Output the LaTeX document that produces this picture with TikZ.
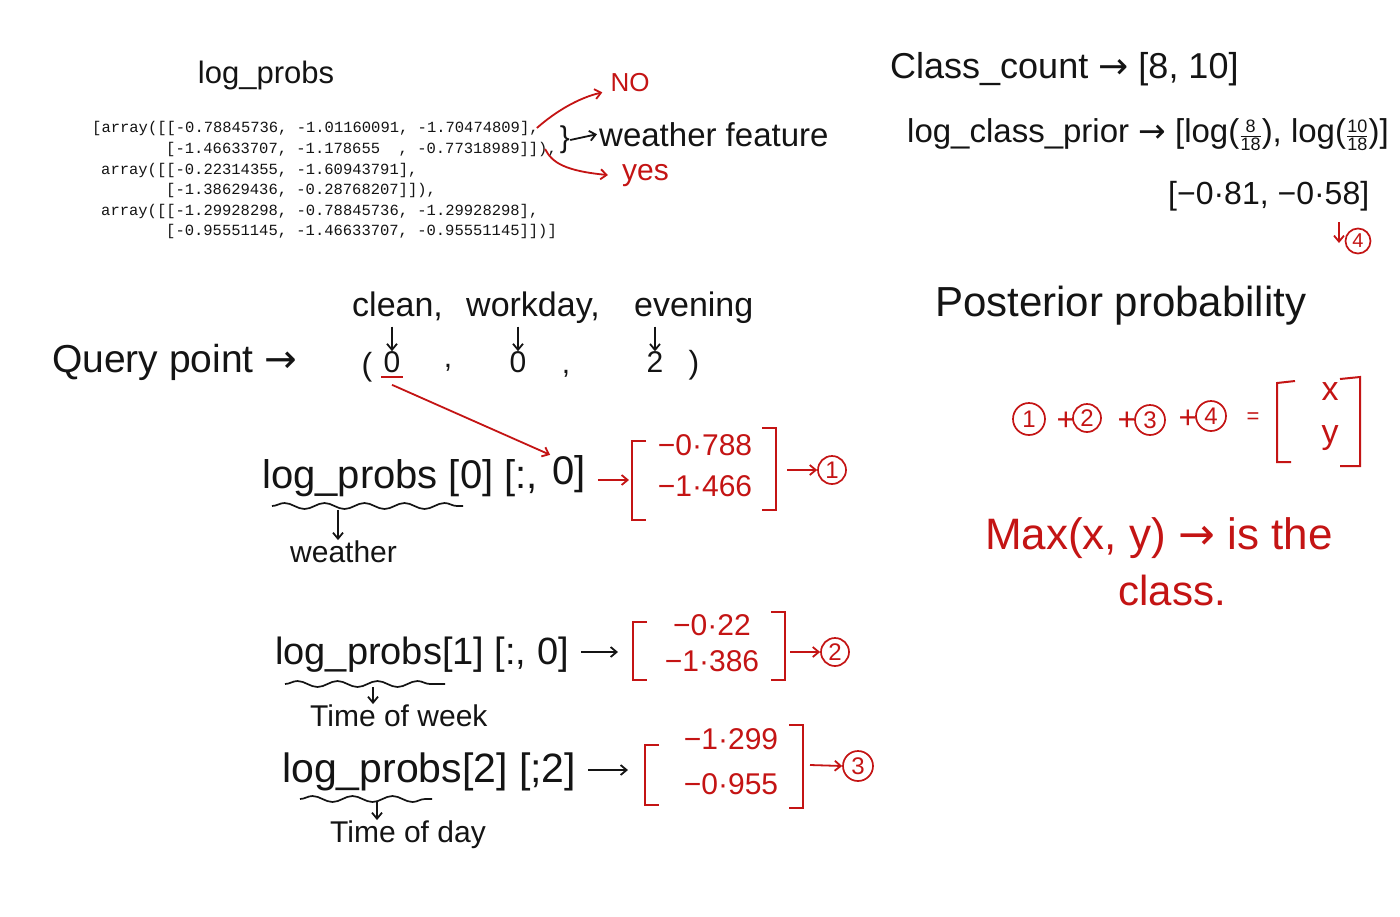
\documentclass[tikz,border=0pt]{standalone}
\usepackage{fontspec}
\setmainfont{Liberation Sans}
\setmonofont{Liberation Mono}
\newfontfamily\symf{DejaVu Sans}
\usetikzlibrary{arrows.meta,decorations.pathmorphing,calc}
\definecolor{hred}{RGB}{196,20,20}
\definecolor{ink}{RGB}{20,20,20}
\newcommand\ar{{\symf →}}
\newcommand\fs[1]{\fontsize{#1}{#1}\selectfont}
\newcommand\fr[2]{$\frac{\mbox{\fs{18}#1}}{\mbox{\fs{18}#2}}$}
\begin{document}
\begin{tikzpicture}[x=1pt,y=-1pt,
  hw/.style={inner sep=0pt, text=ink},
  rd/.style={inner sep=0pt, text=hred},
  code/.style={anchor=west, inner sep=0pt, font=\ttfamily\fs{15.5}, text=ink},
  arr/.style={-{Straight Barb[length=6pt,width=10pt]}, line width=1.8pt},
  circ/.style={circle, draw=hred, text=hred, line width=1.7pt, inner sep=0pt, minimum size=28pt, font=\fs{24}},
  brk/.style={draw=hred, line width=2pt},
  wave/.style={decorate, decoration={snake, amplitude=3pt, segment length=40pt}, line width=1.7pt, draw=ink}
]
\useasboundingbox (0,0) rectangle (1400,916);
\fill[white] (0,0) rectangle (1400,916);

% ---------- log_probs printout ----------
\node[hw, font=\fs{31}] (lph) at (266,75) {log\_probs};
\node[code] (l1) at (92,128) {[array([[-0.78845736, -1.01160091, -1.70474809],};
\node[code] (l2) at (166,149) {[-1.46633707, -1.178655~~, -0.77318989]]),};
\node[code] (l3) at (101,170) {array([[-0.22314355, -1.60943791],};
\node[code] (l4) at (166,190) {[-1.38629436, -0.28768207]]),};
\node[code] (l5) at (101,211) {array([[-1.29928298, -0.78845736, -1.29928298],};
\node[code] (l6) at (166,231) {[-0.95551145, -1.46633707, -0.95551145]])]};

\node[rd, font=\fs{26}] (no) at (630,83) {NO};
\node[rd, font=\fs{30}, anchor=base west] (yes) at (622,180) {yes};
\coordinate (s1) at ([xshift=-2pt]l1.east);
\coordinate (s2) at ([xshift=-12pt]l2.east);
\draw[arr, hred] (s1) .. controls (555,112) and (578,98) .. ([xshift=-8pt]no.south west);
\draw[arr, hred] (s2) .. controls (552,163) and (566,171) .. ([xshift=-14pt]yes.west);

\node[hw, font=\fs{30}] (br) at (565,140) {\}};
\node[hw, font=\fs{33}, anchor=base west] (wf) at (599,146) {weather feature};
\draw[arr, ink] (br.east) -- ([xshift=-2pt]wf.west);

% ---------- class prior ----------
\node[hw, font=\fs{36}, anchor=base west] (cc) at (890,78) {Class\_count \ar{} [8, 10]};
\node[hw, font=\fs{33}, anchor=base west] (lcp) at (907,142) {log\_class\_prior \ar{} [log(\fr{8}{18}), log(\fr{10}{18})]};
\node[hw, font=\fs{32}, anchor=base west] (lcv) at (1168,204) {[−0·81, −0·58]};
\node[circ, minimum size=25pt, font=\fs{20}] (c4p) at (1358,241) {4};
\coordinate (d4a) at (1339,222);
\coordinate (d4b) at (1339,243);
\draw[arr, hred] (d4a) -- (d4b);

% ---------- posterior ----------
\node[hw, font=\fs{42}, anchor=base west] (post) at (935,316) {Posterior probability};
\node[circ, minimum size=32pt] (k1) at (1029,419) {1};
\node[rd, font=\fs{32}] (pl1) at (1066,421) {+};
\node[circ] (k2) at (1087,418) {2};
\node[rd, font=\fs{32}] (pl2) at (1127,421) {+};
\node[circ, minimum size=30pt] (k3) at (1150,420) {3};
\node[rd, font=\fs{32}] (pl3) at (1188,419) {+};
\node[circ, minimum size=30pt] (k4) at (1211,416) {4};
\node[rd, font=\fs{22}] (eq) at (1253,418) {=};
\node[rd, font=\fs{34}] (vx) at (1330,392) {x};
\node[rd, font=\fs{34}] (vy) at (1330,438) {y};
\draw[brk] (1295,381) -- (1277,383) -- (1277,462) -- (1291,462);
\draw[brk] (1340,379) -- (1360,377) -- (1360,466) -- (1340,466);

\node[rd, font=\fs{44}, anchor=base west] (mx) at (985,549) {Max(x, y) \ar{} is the};
\node[rd, font=\fs{42}, anchor=base] (cl) at (1172,605) {class.};

% ---------- query point ----------
\node[hw, font=\fs{39}, anchor=base west] (qp) at (52,372) {Query point \ar};
\node[hw, font=\fs{34}, anchor=base west] (wc) at (352,316) {clean,};
\node[hw, font=\fs{34}, anchor=base west] (ww) at (466,316) {workday,};
\node[hw, font=\fs{34}, anchor=base west] (we) at (634,316) {evening};
\node[hw, font=\fs{32}] (p0) at (367,367) {(};
\node[hw, font=\fs{30}] (d0) at (392,362) {0};
\node[hw, font=\fs{30}] (cm1) at (448,368) {,};
\node[hw, font=\fs{30}] (d1) at (518,362) {0};
\node[hw, font=\fs{30}] (cm2) at (566,374) {,};
\node[hw, font=\fs{30}] (d2) at (655,362) {2};
\node[hw, font=\fs{32}] (p1) at (694,365) {)};
\draw[arr, ink] (d0 |- wc.south) ++(0,6) -- (d0.north);
\draw[arr, ink] (d1 |- wc.south) ++(0,6) -- (d1.north);
\draw[arr, ink] (d2 |- wc.south) ++(0,6) -- (d2.north);
\draw[hred, line width=2pt] ($(d0.south west)+(-2,4)$) -- ($(d0.south east)+(2,4)$);
\coordinate (u0) at ($(d0.south)+(0,12)$);

% ---------- row 1 ----------
\node[hw, font=\fs{40}, anchor=base west] (r1) at (262,488) {log\_probs [0] [:,};
\node[hw, font=\fs{40}, anchor=base west] (z1) at ($(r1.base east)+(14,-4)$) {0]};
\draw[arr, hred] (u0) -- ([xshift=-2pt]z1.north west);
\draw[wave] (272,506) -- (463,506);
\coordinate (w1) at (338,510);
\node[hw, font=\fs{30}, anchor=base west] (wt) at (290,562) {weather};
\draw[arr, ink] (w1) -- (w1 |- wt.north);
\node[rd, font=\fontsize{30}{41}\selectfont, align=center] (m1) at (705,466) {−0·788\\−1·466};
\draw[brk] (646,441) -- (632,441) -- (632,520) -- (646,520);
\draw[brk] (762,428) -- (776,428) -- (776,510) -- (762,510);
\coordinate (lb1) at (629,480);
\draw[arr, hred] ($(z1.base east)+(12,-4)$) -- (lb1);
\node[circ] (c1) at (832,470) {1};
\draw[arr, hred] (787,470) -- (c1.west);

% ---------- row 2 ----------
\node[hw, font=\fs{38}, anchor=base west] (r2) at (275,664) {log\_probs[1] [:, 0]};
\draw[wave] (285,684) -- (445,684);
\coordinate (w2) at (373,687);
\node[hw, font=\fs{30}, anchor=base west] (tw) at (310,726) {Time of week};
\draw[arr, ink] (w2) -- (w2 |- tw.north);
\node[rd, font=\fontsize{30}{36}\selectfont, align=center] (m2) at (712,643) {−0·22\\−1·386};
\draw[brk] (647,622) -- (633,622) -- (633,680) -- (647,680);
\draw[brk] (771,612) -- (785,612) -- (785,680) -- (771,680);
\coordinate (lb2) at (618,652);
\draw[arr, ink] ($(r2.base east)+(12,-12)$) -- (lb2);
\node[circ] (c2) at (835,652) {2};
\draw[arr, hred] (790,652) -- (c2.west);

% ---------- row 3 ----------
\node[hw, font=\fs{41}, anchor=base west] (r3) at (282,782) {log\_probs[2] [;2]};
\draw[wave] (300,799) -- (432,799);
\coordinate (w3) at (377,802);
\node[hw, font=\fs{30}, anchor=base west] (td) at (330,842) {Time of day};
\draw[arr, ink] (w3) -- (w3 |- td.north);
\node[rd, font=\fontsize{30}{45}\selectfont, align=center] (m3) at (731,762) {−1·299\\−0·955};
\draw[brk] (659,745) -- (645,745) -- (645,805) -- (659,805);
\draw[brk] (789,725) -- (803,725) -- (803,808) -- (789,808);
\coordinate (lb3) at (628,770);
\draw[arr, ink] ($(r3.base east)+(12,-12)$) -- (lb3);
\node[circ, minimum size=30pt] (c3) at (858,766) {3};
\draw[arr, hred] (810,765) -- (c3.west);
\end{tikzpicture}
\end{document}
